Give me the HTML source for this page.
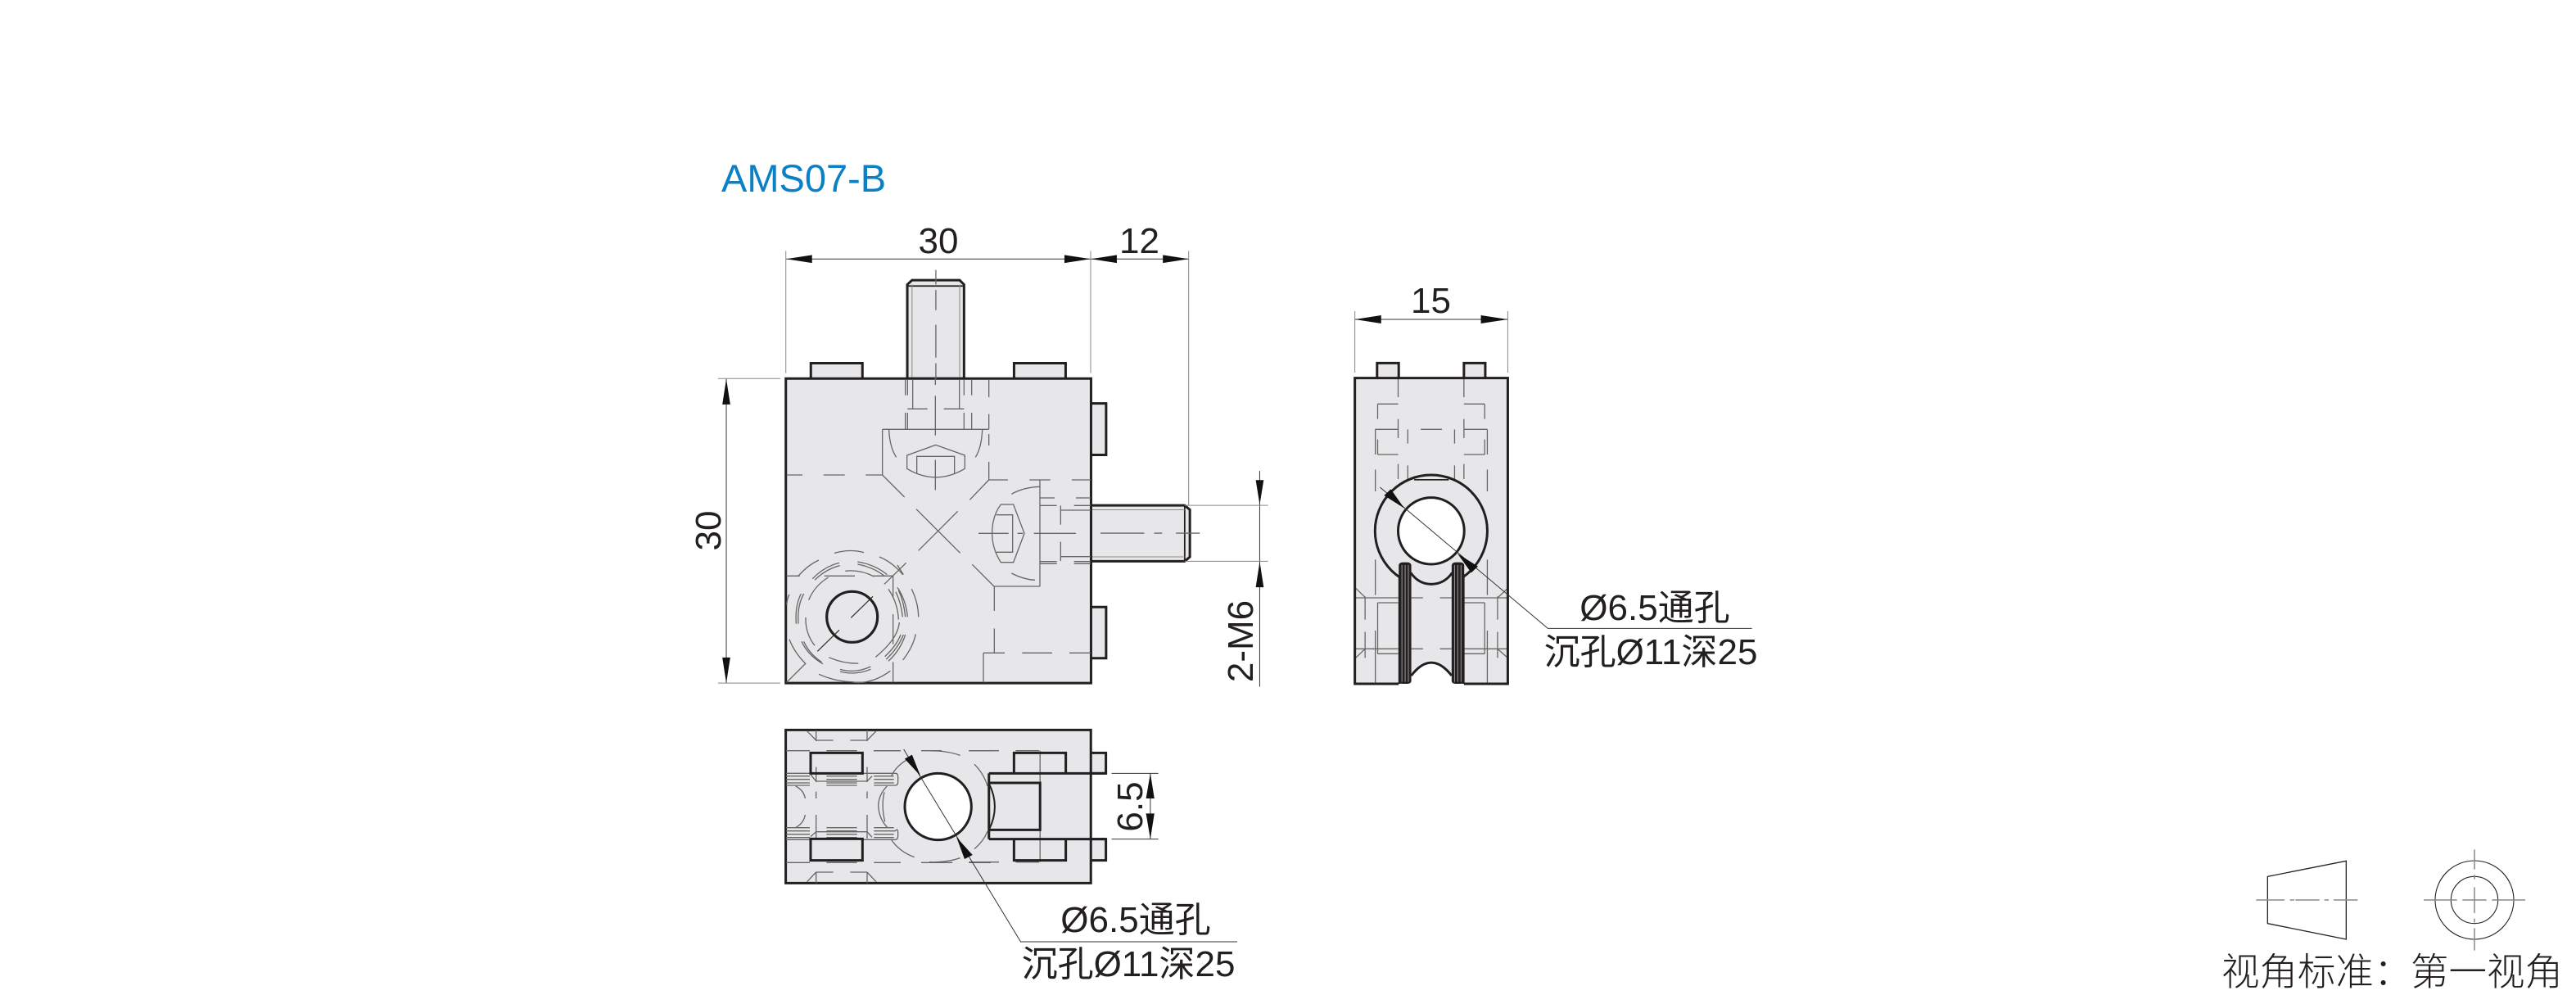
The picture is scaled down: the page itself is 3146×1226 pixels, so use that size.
<!DOCTYPE html>
<html><head><meta charset="utf-8"><style>
html,body{margin:0;padding:0;background:#fff}
svg{display:block}
svg *{vector-effect:non-scaling-stroke}
.t{font-family:"Liberation Sans","Noto Sans CJK SC",sans-serif;font-size:44px;fill:#231f20}
.k{fill:none;stroke:#231f20;stroke-width:3;stroke-linejoin:miter}
.f{fill:#e7e7e9;stroke:#231f20;stroke-width:3}
.h{fill:none;stroke:#666;stroke-width:1.3}
.d{fill:none;stroke:#333;stroke-width:1}
.e{fill:none;stroke:#888;stroke-width:1}
.a{fill:#111;stroke:none}
</style></head><body>
<svg xmlns="http://www.w3.org/2000/svg" width="3146" height="1226" viewBox="0 0 3146 1226">
<rect width="3146" height="1226" fill="#fff"/>
<text x="881" y="234" class="t" style="font-size:47px;fill:#0a80c6">AMS07-B</text>

<!-- main view outer -->
<g transform="translate(840 160) scale(.4847 .4464)">
<path class="f" d="M553,677V420L565,408H685L696,420V677Z"/>
<path class="k" style="stroke-width:1.8" d="M553,424H696"/>
<path class="e" d="M565,420V677M685,420V677"/>
<path class="f" d="M310,677V635H440V677M822,677V635H952V677"/>
<path class="f" d="M1016,745H1054V886H1016M1016,1302H1054V1442H1016"/>
<path class="f" d="M1016,1024H1252L1265,1036V1165L1252,1177H1016Z"/>
<path class="k" style="stroke-width:1.8" d="M1252,1024V1177"/>
<path class="e" d="M1016,1036H1252M1016,1165H1252"/>
<rect class="f" x="247" y="677" width="769" height="833"/>
<path class="d" d="M248,350H1262M97,678V1510M1441,930V1520"/>
<path class="e" d="M247,328V662M1015,328V662M1262,328V1024M76,677H233M76,1510H233M1252,1024H1462M1252,1177H1462"/>
<path class="h" d="M625,380V420M625,435V490M625,530V620M625,635V677"/>
<path class="h" d="M1040,1100H1150M1175,1100H1195M1230,1100H1290"/>
<path class="a" d="M248,350L313,339V361ZM1015,350L949,339V361ZM1016,350L1081,339V361ZM1262,350L1197,339V361ZM97,678L87,748H107ZM97,1510L87,1440H107ZM1441,1022L1431,955H1451ZM1441,1178L1431,1248H1451Z"/>
</g>

<!-- main view hidden -->
<g transform="translate(940 440) scale(.33333)">
<path class="h" d="M497,70V128M505,70V128M524,70V178M695,70V178M712,70V128M740,70V128M803,70V135M497,192V252M505,192V252M712,192V252M740,192V252M803,197V252M803,270V312M803,372V438M505,178H578M638,178H712M607,60V90M607,130V275M607,365V475M413,253H803M413,253V420M62,420H120M197,420H275M352,420H413M413,420L494,501M803,438L733,511M803,438H873M952,438H1028M1107,438H1176M990,438V828M822,828H990M742,748L822,828M823,828V918M823,982V1072M783,1072H861M925,1072H1035M1098,1072H1176M783,1072V1180"/>
<path class="h" d="M537,545L698,706M689,553L545,697M437,255Q440,320 464,355M779,255Q776,320 754,355M503,348L608,310L715,348V397Q608,460 503,397ZM539,415V352H677V415M886,490Q930,465 990,463M886,780Q930,803 972,805M847,528H893L933,634L893,740H847Q815,690 815,634Q815,570 847,528ZM830,566H890V703H830M765,634H875M908,634H928M968,634H1122"/>
<path class="h" d="M990,504H1044M1122,504H1176M990,532H1052M1115,532H1176M990,737H1052M990,745H1052M1115,737H1176M1115,745H1176M1066,532V602M1066,665V735M1066,549H1176M1066,719H1176"/>
<path class="h" d="M62,790H110M200,790H312M380,790H452M452,790V870M452,930V1040M452,1105V1180M420,820L500,742M468,750L490,785M378,865L298,943M255,988L175,1066M132,1110L62,1180"/>
<!-- concentric dashed arcs -->
<path class="h" d="M237,706Q295,690 345,704M402,720Q450,740 488,785M520,838Q545,890 545,940M535,1003Q525,1050 488,1098M442,1138Q370,1190 300,1178Q235,1175 180,1150M132,1112Q90,1070 72,1022M62,895Q65,870 72,858M105,790Q140,750 180,732"/>
<path class="h" d="M157,800Q200,755 255,742M165,805Q205,765 257,752M322,738Q385,748 430,785M322,747Q380,758 420,790M468,832Q500,880 505,940M472,842Q492,885 497,940M462,848Q482,890 487,940M497,1005Q480,1060 435,1102M490,1005Q470,1055 427,1095M480,1005Q465,1045 422,1085M258,1132Q315,1148 370,1122M258,1140Q315,1155 370,1132M195,1112Q140,1080 117,1030M190,1105Q145,1075 125,1030M125,855Q100,900 105,965M115,855Q92,900 97,965"/>
<path class="h" d="M143,878Q165,825 215,795M277,772Q330,765 382,792M435,838Q470,890 472,950M475,960Q470,1020 388,1087M325,1110Q270,1112 217,1088M165,1045Q130,1000 132,942"/>
<circle cx="302" cy="940" r="93" fill="none" stroke="#231f20" stroke-width="3.2"/>
<path class="d" d="M378,865L298,943M255,988L175,1066"/>
</g>

<text x="1146" y="309" text-anchor="middle" class="t">30</text>
<text x="1391.5" y="309" text-anchor="middle" class="t">12</text>
<text transform="translate(880 648) rotate(-90)" text-anchor="middle" class="t">30</text>
<text transform="translate(1530 783) rotate(-90)" text-anchor="middle" class="t">2-M6</text>

<!-- bottom view right portion -->
<g transform="translate(920 860) scale(.40816 .33333)">
<path class="f" d="M1010,178H1055V253H1010M1010,494H1055V572H1010"/>
<rect class="f" x="97" y="94" width="913" height="561"/>
<path class="h" d="M645,170H735M785,170H855M645,578H735M785,578H855M858,170V578M360,170H440"/>
<path class="k" d="M780,253V178H935V253M780,494V572H935V494M705,253H1055M705,494H1055M705,253V494M708,288H858V460H708"/>
<path class="k" style="stroke-width:2" d="M705,290Q740,375 705,460"/>
<path class="d" d="M1072,253H1212M1072,494H1212M1188,253V494"/>
<path class="a" d="M1188,253L1175,345H1200ZM1188,494L1175,400H1200Z"/>
</g>
<!-- bottom view left portion -->
<g transform="translate(950 880) scale(.33333)">
<path class="h" d="M30,110H117M178,110H290M352,110H450M525,110H600M700,110H780M30,520H117M178,520H290M352,520H450M525,520H640M700,520H780"/>
<path class="h" d="M140,35V75M140,170V225M140,260V285M140,345V432M140,555V595M327,35V75M327,170V225M327,260V285M327,345V432M327,555V595"/>
<path class="h" d="M107,38L140,72M360,38L327,72M107,590L140,555M360,590L327,555M140,72H203M265,72H327M140,555H203M265,555H327"/>
<path class="h" d="M30,193H118M310,193H430Q440,193 440,205V225Q440,237 430,237H352M30,203H117M178,203H290M352,203H425M30,215H117M178,215H290M352,215H425M30,228H117M178,228H290M352,228H425M30,237H117M178,237H290"/>
<path class="h" d="M30,392H117M178,392H290M352,392H425M30,404H117M178,404H290M352,404H430Q440,392 440,410V420Q440,436 430,436H310M30,416H117M178,416H290M352,416H425M30,428H117M178,428H290M352,428H425M30,436H118"/>
<path class="h" d="M120,197L140,222H327L345,203M120,425L140,407H327L345,427"/>
<path class="h" d="M65,240Q95,255 100,285M100,345Q95,375 65,392M400,240Q370,270 368,310Q370,360 402,392M390,262Q378,310 392,370M470,145Q430,170 415,205M415,435Q445,480 500,500M555,110Q620,110 668,127M555,518Q620,520 668,503M720,160Q755,195 768,240M720,470Q755,440 768,405"/>
<rect class="k" x="120" y="118" width="190" height="75"/>
<rect class="k" x="120" y="433" width="190" height="79"/>
<circle cx="587" cy="315" r="122" fill="#fff" stroke="#231f20" stroke-width="3"/>
</g>
<g transform="translate(920 860) scale(.40816 .33333)">
<path class="d" d="M450,165L800,870H1448"/>
<path class="a" d="M500,262L453,200L475,185ZM608,487L632,567L656,552Z"/>
</g>
<text transform="translate(1395 985) rotate(-90)" text-anchor="middle" class="t">6.5</text>
<text x="1387" y="1138" text-anchor="middle" class="t">Ø6.5通孔</text>
<text x="1378" y="1192" text-anchor="middle" class="t">沉孔Ø11深25</text>

<!-- side view -->
<g transform="translate(1620 340) scale(.35714 .33333)">
<path class="f" d="M173,365V310H247V365M470,365V310H543V365"/>
<path d="M97,365H620V1485H97Z" fill="#e7e7e9"/>
<path d="M290,1485V1455Q358,1345 428,1455V1485Z" fill="#fff"/>
<path class="h" d="M245,365V435M245,515V585M245,680V735M470,365V435M470,515V585M470,680V735M175,460H245M470,460H541M175,460V515M175,590V645M541,460V515M541,590V645M175,645H245M470,645H541M167,553H245M322,553H395M470,553H550M167,553V645M550,553V645M278,553V605M278,685V735M438,553V605M438,685V735M167,700V780M550,700V780M167,1030V1160M550,1030V1160M167,1290V1480M550,1290V1480"/>
<path class="h" d="M100,1170H245M290,1170H330M388,1170H428M470,1170H617M100,1357H245M290,1357H330M388,1357H428M470,1357H617M175,1188H245M470,1188H541M175,1188V1375M541,1188V1375M175,1375H245M470,1375H541M132,1165V1250M132,1295V1390M585,1165V1250M585,1295V1390M100,1135L132,1168M620,1135L585,1170M100,1390L132,1357M620,1390L585,1357"/>
<ellipse cx="358" cy="925" rx="192" ry="205" fill="none" stroke="#231f20" stroke-width="3"/>
<path d="M280,1065H436V1150H280Z" fill="#e7e7e9" stroke="none"/>
<path class="k" d="M247,1485H97V365H620V1485H470"/>
<path class="k" d="M250,1090V1485M468,1090V1485M288,1078Q315,1120 358,1120Q403,1120 430,1078M290,1455Q358,1360 428,1455"/>
<ellipse cx="358" cy="925" rx="113" ry="122" fill="#fff" stroke="#231f20" stroke-width="3"/>
<rect x="300" y="735" width="118" height="5" fill="#231f20"/>
<rect x="247" y="1040" width="43" height="445" rx="14" ry="10" fill="#231f20"/>
<rect x="428" y="1040" width="43" height="445" rx="14" ry="10" fill="#231f20"/>
<path d="M258,1050V1478M269,1050V1478M280,1050V1478M438,1050V1478M449,1050V1478M460,1050V1478" fill="none" stroke="#9a9a9c" stroke-width="1"/>
<path class="d" d="M97,150H620M183,765L757,1282H1455"/>
<path class="e" d="M97,120V345M620,120V345"/>
<path class="a" d="M97,150L187,135V165ZM620,150L528,135V165ZM266,842L197,795L220,772ZM448,1008L518,1055L495,1078Z"/>
</g>
<text x="1747.5" y="382" text-anchor="middle" class="t">15</text>
<text x="2021" y="757" text-anchor="middle" class="t">Ø6.5通孔</text>
<text x="2016" y="811" text-anchor="middle" class="t">沉孔Ø11深25</text>

<!-- projection symbol -->
<g transform="translate(2680 1020) scale(.33333)">
<path class="d" style="stroke:#222;stroke-width:1.3" d="M268,151L556,94V381L268,323Z"/>
<circle cx="1026" cy="237" r="144" class="d" style="stroke:#222;stroke-width:1.1"/>
<circle cx="1026" cy="237" r="86" class="d" style="stroke:#222;stroke-width:1.1"/>
<path class="e" style="stroke-width:1.5" d="M226,237H330M350,237H366M370,237H458M476,237H492M510,237H598M840,237H962M982,237H1070M1090,237H1212M1026,52V125M1026,145V161M1026,190V285M1026,305V320M1026,340V422"/>
</g>
<text x="2713" y="1203" class="t" style="font-size:46.5px;font-family:'Noto Sans CJK SC',sans-serif;font-weight:300">视角标准：</text>
<text x="2944" y="1203" class="t" style="font-size:46.5px;font-family:'Noto Sans CJK SC',sans-serif;font-weight:300">第一视角</text>
</svg>
</body></html>
